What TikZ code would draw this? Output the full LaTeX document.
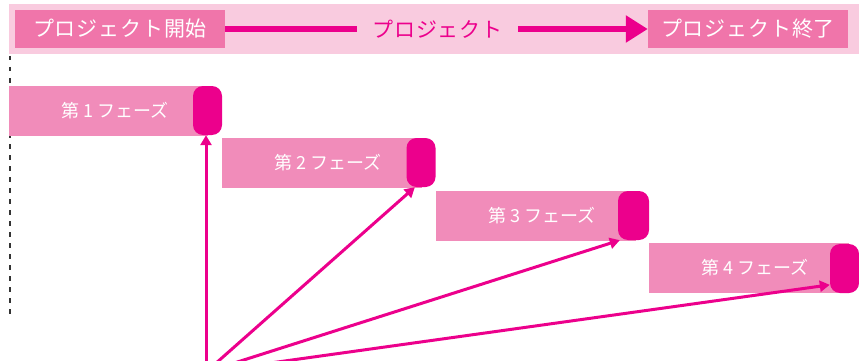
\documentclass[tikz,border=0pt]{standalone}
\usepackage{fontspec}
\setmainfont{Noto Sans CJK JP}
\usetikzlibrary{arrows.meta,calc}
\definecolor{band}{HTML}{F9CBDF}
\definecolor{boxpink}{HTML}{F075AA}
\definecolor{barpink}{HTML}{F18CBA}
\definecolor{mag}{HTML}{EC008C}
\definecolor{dashgray}{HTML}{333333}
\newcommand{\dg}[1]{\hspace{0.2em}#1\hspace{0.2em}}
\tikzset{
  endbox/.style={fill=boxpink, text=white, minimum width=200pt, minimum height=38pt, inner sep=0pt, font=\fontsize{21}{21}\selectfont\addfontfeatures{LetterSpace=4}},
  midlabel/.style={text=mag, minimum width=161pt, minimum height=38pt, inner sep=0pt, font=\fontsize{21}{21}\selectfont\addfontfeatures{LetterSpace=4}},
  phasebar/.style={fill=barpink, minimum height=50pt, inner sep=0pt, anchor=west},
  phasetext/.style={text=white, inner sep=0pt, font=\fontsize{18}{18}\selectfont},
  pill/.style={fill=mag, rounded corners=10pt, minimum width=29pt, minimum height=49pt, inner sep=0pt},
  fan/.style={draw=mag, line width=3pt, -{Triangle[length=10pt,width=11pt]}},
  thickline/.style={draw=mag, line width=6.5pt},
}
\begin{document}
\begin{tikzpicture}[x=1pt,y=-1pt]
\useasboundingbox (0,0) rectangle (859,361);
\clip (0,0) rectangle (859,361);
% top band
\fill[band] (9,4) rectangle (859,54);
\node[endbox, minimum width=210pt] (start) at (120,29) {プロジェクト開始};
\node[midlabel] (mid) at (437.5,29) {プロジェクト};
\node[endbox] (finish) at (748,29) {プロジェクト終了};
\draw[thickline] (start.east) -- (mid.west);
\draw[thickline, -{Triangle[length=22pt,width=26pt]}] (mid.east) -- (finish.west);
% dashed line
\draw[dashgray, line width=1.6pt, dash pattern=on 4.5pt off 6.5pt] (10,56) -- (10,320);
% phase bars
\node[phasebar, minimum width=199pt] (b1) at (9,111) {};
\node[phasebar, minimum width=200pt] (b2) at (222,162.5) {};
\node[phasebar, minimum width=200pt] (b3) at (436,216) {};
\node[phasebar, minimum width=200pt] (b4) at (649,268) {};
\node[phasetext] (t1) at (115,111) {第\dg{1}フェーズ};
\node[phasetext] (t2) at (328,162.5) {第\dg{2}フェーズ};
\node[phasetext] (t3) at (542,216) {第\dg{3}フェーズ};
\node[phasetext] (t4) at (755,268) {第\dg{4}フェーズ};
\node[pill] (p1) at (207.5,110.5) {};
\node[pill] (p2) at (421,162.5) {};
\node[pill, minimum width=31pt] (p3) at (633.5,215.5) {};
\node[pill] (p4) at (844.5,268.5) {};
% fan arrows
\coordinate (o) at (206,372);
\draw[fan] (o) -- (p1.south -| o);
\draw[fan] (o) -- (p2.256);
\draw[fan] (o) -- (p3.241);
\draw[fan] (o) -- (p4.228);
\end{tikzpicture}
\end{document}
